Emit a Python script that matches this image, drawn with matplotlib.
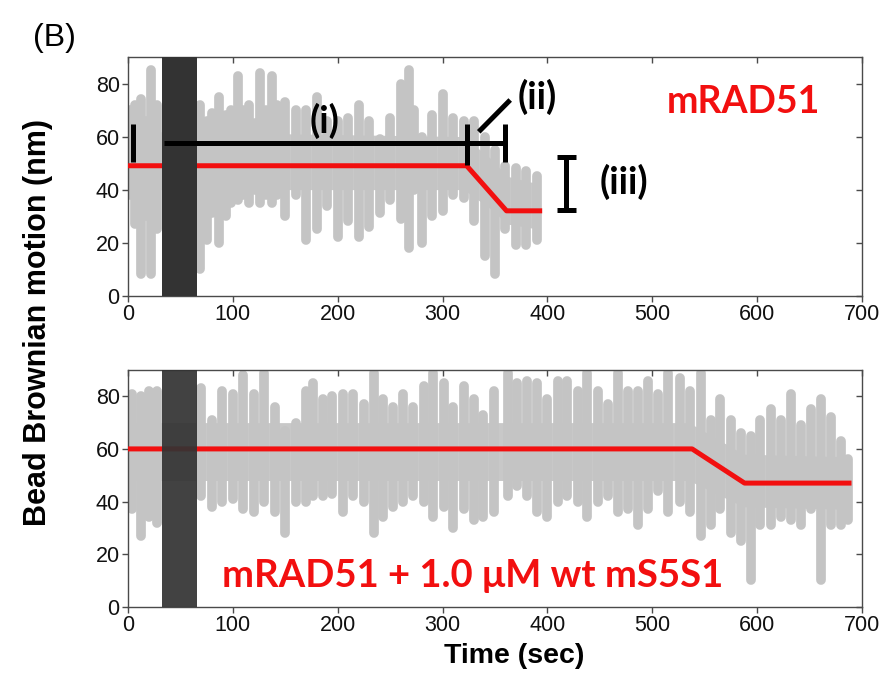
import matplotlib
matplotlib.use('Agg')
import matplotlib.pyplot as plt

# ---------------- data ----------------
# Top panel: mRAD51 alone. Spike columns: time (s), upper and lower extent (nm)
top_t  = [2, 7, 12, 17, 22, 28, 69, 75, 80, 87, 93, 98, 105, 110, 115, 121, 126, 132, 137,
          142, 150, 160, 170, 180, 190, 200, 210, 220, 230, 240, 250, 260, 268, 273, 280,
          290, 300, 310, 320, 330, 340, 350, 360, 370, 380, 390]
top_hi = [70, 72, 74, 66, 85, 72, 72, 66, 69, 75, 68, 70, 83, 70, 72, 65, 84, 70, 83,
          72, 73, 70, 70, 75, 66, 66, 67, 72, 66, 59, 67, 80, 85, 70, 60,
          68, 76, 67, 66, 66, 60, 55, 49, 48, 47, 45]
top_lo = [38, 27, 8, 30, 8, 25, 10, 21, 31, 20, 30, 35, 36, 38, 35, 40, 35, 38, 35,
          38, 30, 38, 21, 25, 34, 22, 28, 22, 26, 31, 36, 29, 18, 40, 20,
          30, 32, 38, 37, 28, 15, 8, 25, 19, 19, 21]
# dense core of the trace
top_core_t  = [0, 320, 345, 362, 393]
top_core_lo = [40, 40, 33, 27, 25]
top_core_hi = [62, 60, 52, 45, 42]
# fitted step (red)
top_fit_t = [0, 323, 361, 395]
top_fit_y = [49, 49, 32, 32]

# Bottom panel: mRAD51 + 1.0 uM wt mS5S1
bot_t  = [4, 12, 20, 28, 70, 80, 90, 100, 110, 120, 130, 140, 150, 160, 170, 176, 186, 195,
          205, 215, 225, 235, 243, 253, 262, 272, 282, 291, 301, 310, 320, 330, 339, 349,
          362, 371, 381, 390, 400, 410, 419, 429, 438, 448, 458, 467, 477, 486, 496, 505,
          515, 526, 536, 546, 556, 565, 575, 585, 594, 603, 613, 623, 632, 642, 651, 661,
          670, 680, 687]
bot_hi = [81, 80, 82, 82, 83, 71, 82, 81, 88, 81, 89, 76, 67, 70, 82, 85, 79, 80,
          81, 81, 77, 89, 79, 76, 81, 76, 84, 89, 85, 76, 84, 79, 73, 82,
          89, 85, 86, 85, 79, 86, 86, 82, 89, 82, 77, 89, 82, 82, 86, 81,
          89, 87, 82, 89, 71, 79, 71, 66, 65, 71, 75, 71, 81, 69, 75, 79,
          72, 63, 56]
bot_lo = [37, 27, 34, 32, 42, 38, 40, 41, 37, 36, 40, 36, 28, 40, 40, 42, 42, 43,
          36, 42, 40, 28, 34, 38, 40, 42, 40, 34, 38, 30, 37, 33, 34, 36,
          42, 46, 42, 36, 34, 40, 42, 40, 34, 40, 42, 36, 37, 31, 37, 44,
          36, 40, 36, 27, 31, 37, 28, 25, 10, 31, 31, 34, 33, 31, 37, 10,
          31, 31, 33]
bot_core_t  = [0, 535, 587, 688]
bot_core_lo = [48, 48, 38, 37]
bot_core_hi = [70, 70, 58, 57]
bot_fit_t = [0, 538, 588, 690]
bot_fit_y = [60, 60, 47, 47]

# shaded (buffer exchange) interval
band = (32, 66)

x_ticks = [0, 100, 200, 300, 400, 500, 600, 700]
y_ticks = [0, 20, 40, 60, 80]

# ---------------- styling ----------------
GRAY = '#c4c4c4'
CORE = '#c8c8c8'
RED = '#f20f0f'
BAND = '#333333'
SPINE = '#4a4a4a'
tick_font = 'Liberation Sans'
ann_font = 'Lato'

fig = plt.figure(figsize=(8.87, 6.87), dpi=100)
ax1 = fig.add_axes([0.1443, 0.5696, 0.8275, 0.3474])
ax2 = fig.add_axes([0.1443, 0.1169, 0.8275, 0.3445])


def style(ax):
    ax.set_xlim(0, 700)
    ax.set_ylim(0, 90)
    ax.set_xticks(x_ticks)
    ax.set_yticks(y_ticks)
    for s in ax.spines.values():
        s.set_color(SPINE)
        s.set_linewidth(1.0)
    ax.tick_params(direction='out', length=4, width=1, color=SPINE,
                   labelsize=15.5, labelcolor='#111111', pad=2)
    for lab in ax.get_xticklabels() + ax.get_yticklabels():
        lab.set_fontfamily(tick_font)
    top = ax.secondary_xaxis('top')
    top.set_xticks(x_ticks)
    top.tick_params(direction='in', length=4, width=1, color=SPINE, labeltop=False)
    top.spines['top'].set_visible(False)
    right = ax.secondary_yaxis('right')
    right.set_yticks(y_ticks)
    right.tick_params(direction='in', length=4, width=1, color=SPINE, labelright=False)
    right.spines['right'].set_visible(False)


def trace(ax, t, hi, lo, ct, clo, chi, ft, fy, band_alpha):
    ax.fill_between(ct, clo, chi, color=CORE, lw=0, zorder=1)
    ax.vlines(t, lo, hi, color=GRAY, lw=7.0, capstyle='round', zorder=1.5)
    ax.plot(ft, fy, color=RED, lw=3.6, solid_capstyle='butt', zorder=3)
    ax.axvspan(band[0], band[1], color=BAND, alpha=band_alpha, lw=0, zorder=4)


# top panel
trace(ax1, top_t, top_hi, top_lo, top_core_t, top_core_lo, top_core_hi,
      top_fit_t, top_fit_y, 1.0)
style(ax1)
# annotations (i), (ii), (iii)
k = dict(color='black', lw=3.6, solid_capstyle='butt', zorder=5)
ax1.plot([5, 5], [50.5, 64.7], **k)
ax1.plot([34, 360], [57.4, 57.4], **k)
ax1.plot([323, 323], [49.2, 64.7], **k)
ax1.plot([360, 360], [50.5, 64.7], **k)
ax1.plot([334.5, 364.5], [61.8, 73.8], **k)
ax1.plot([418, 418], [32.3, 52.4], **k)
ax1.plot([409, 427], [52.4, 52.4], **k)
ax1.plot([409, 427], [32.3, 32.3], **k)
ann = dict(fontfamily=ann_font, fontweight='bold', ha='center',
           va='center', zorder=6)
ax1.text(187, 66, '(i)', fontsize=27, **ann)
ax1.text(390, 75, '(ii)', fontsize=27, **ann)
ax1.text(473, 43, '(iii)', fontsize=27, **ann)
ax1.text(587, 73, 'mRAD51', color=RED, fontsize=27, **ann)

# bottom panel
trace(ax2, bot_t, bot_hi, bot_lo, bot_core_t, bot_core_lo, bot_core_hi,
      bot_fit_t, bot_fit_y, 0.93)
style(ax2)
ax2.text(329, 11.5, 'mRAD51 + 1.0 \u03bcM wt mS5S1', color=RED, fontsize=27.5, **ann)

fig.text(514 / 887, 1 - 656 / 687, 'Time (sec)', fontfamily=tick_font,
         fontweight='bold', fontsize=20.5, ha='center', va='center')
fig.text(38 / 887, 1 - 322 / 687, 'Bead Brownian motion (nm)', rotation=90,
         fontfamily=tick_font, fontweight='bold', fontsize=22,
         ha='center', va='center')
fig.text(54 / 887, 1 - 38 / 687, '(B)', fontfamily=tick_font, fontsize=23,
         ha='center', va='center')

fig.savefig('out.png', dpi=100)
